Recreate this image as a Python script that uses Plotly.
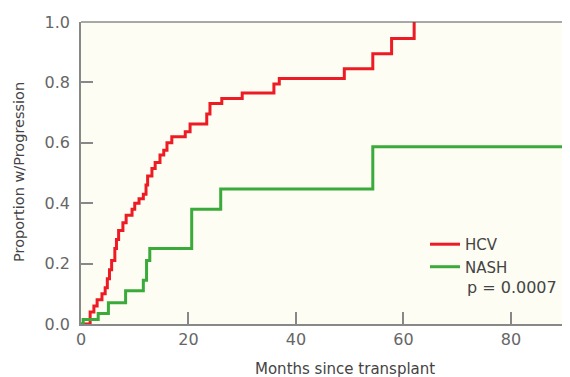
import plotly.graph_objects as go

# HCV (red) step curve: month of event, cumulative proportion after it
hcv_months = [0, 1.7, 2.4, 3.0, 3.9, 4.5, 4.9, 5.3, 5.7, 6.3, 6.6, 7.0, 7.8, 8.4,
              9.5, 10.0, 10.8, 11.6, 12.1, 12.4, 13.2, 13.8, 14.7, 15.4, 16.0,
              16.9, 19.4, 20.3, 23.4, 24.0, 26.2, 30.0, 35.9, 36.9, 49.0, 54.3,
              57.8, 62.0]
hcv_prop = [0, 0.04, 0.06, 0.08, 0.10, 0.12, 0.15, 0.18, 0.21, 0.25, 0.28, 0.31,
            0.335, 0.36, 0.38, 0.40, 0.415, 0.43, 0.46, 0.49, 0.515, 0.535, 0.56,
            0.575, 0.60, 0.62, 0.637, 0.662, 0.695, 0.73, 0.747, 0.765, 0.795,
            0.813, 0.845, 0.895, 0.945, 1.0]

# NASH (green) step curve
nash_months = [0, 0.4, 3.2, 5.1, 8.3, 11.6, 12.2, 12.8, 20.6, 26.0, 54.3, 91]
nash_prop = [0, 0.015, 0.035, 0.07, 0.11, 0.145, 0.21, 0.25, 0.38, 0.447, 0.587, 0.587]

x_ticks = [0, 20, 40, 60, 80]
y_ticks = [0.0, 0.2, 0.4, 0.6, 0.8, 1.0]

RED = "#ed1c24"
GREEN = "#3aaa3a"
FONT = "DejaVu Sans"

# page body has an 8px margin; plot area is 489 x 302 px
PW, PH = 489, 302

fig = go.Figure()
fig.add_trace(go.Scatter(x=hcv_months, y=hcv_prop, mode="lines", name="HCV",
                         line=dict(color=RED, width=3, shape="hv")))
fig.add_trace(go.Scatter(x=nash_months, y=nash_prop, mode="lines", name="NASH",
                         line=dict(color=GREEN, width=3, shape="hv")))

fig.update_layout(
    width=562, height=369,
    margin=dict(l=73, r=0, t=14, b=53),
    paper_bgcolor="white",
    plot_bgcolor="#fdfdf3",
    font=dict(family=FONT, color="#666666", size=16),
    showlegend=True,
    legend=dict(x=(425 - 81) / PW, y=0.318, xanchor="left", yanchor="top",
                bgcolor="rgba(0,0,0,0)", itemwidth=30, tracegroupgap=0,
                font=dict(family=FONT, size=15, color="#444444")),
)
fig.update_xaxes(range=[0, 91], tickvals=x_ticks, ticktext=[str(v) for v in x_ticks],
                 ticks="inside", ticklen=12, tickwidth=1.5, tickcolor="#888888",
                 showline=True, linecolor="#888888", linewidth=1.5,
                 showgrid=False, zeroline=False,
                 tickfont=dict(size=16, color="#666666"))
fig.update_yaxes(range=[0, 1], tickvals=y_ticks, ticktext=[f"{v:.1f}" for v in y_ticks],
                 ticks="inside", ticklen=12, tickwidth=1.5, tickcolor="#888888",
                 showline=True, linecolor="#888888", linewidth=1.5,
                 showgrid=False, zeroline=False, ticklabelstandoff=6,
                 tickfont=dict(size=16, color="#666666"))

# top border
fig.add_shape(type="line", xref="paper", yref="paper", x0=0, x1=1, y0=1, y1=1,
              line=dict(color="#555555", width=1.2))

fig.add_annotation(text="Months since transplant", xref="paper", yref="paper",
                   x=(345 - 81) / PW, y=-45 / PH, xanchor="center", yanchor="middle",
                   showarrow=False, font=dict(size=15, color="#444444"))
fig.add_annotation(text="Proportion w/Progression", xref="paper", yref="paper",
                   x=-62 / PW, y=(324 - 172) / PH, textangle=-90,
                   xanchor="center", yanchor="middle",
                   showarrow=False, font=dict(size=14.5, color="#444444"))
fig.add_annotation(text="p = 0.0007", xref="paper", yref="paper",
                   x=(465 - 81) / PW, y=(324 - 287) / PH, xanchor="left", yanchor="middle",
                   showarrow=False, font=dict(size=16, color="#444444"))

fig.write_html("out.html")
